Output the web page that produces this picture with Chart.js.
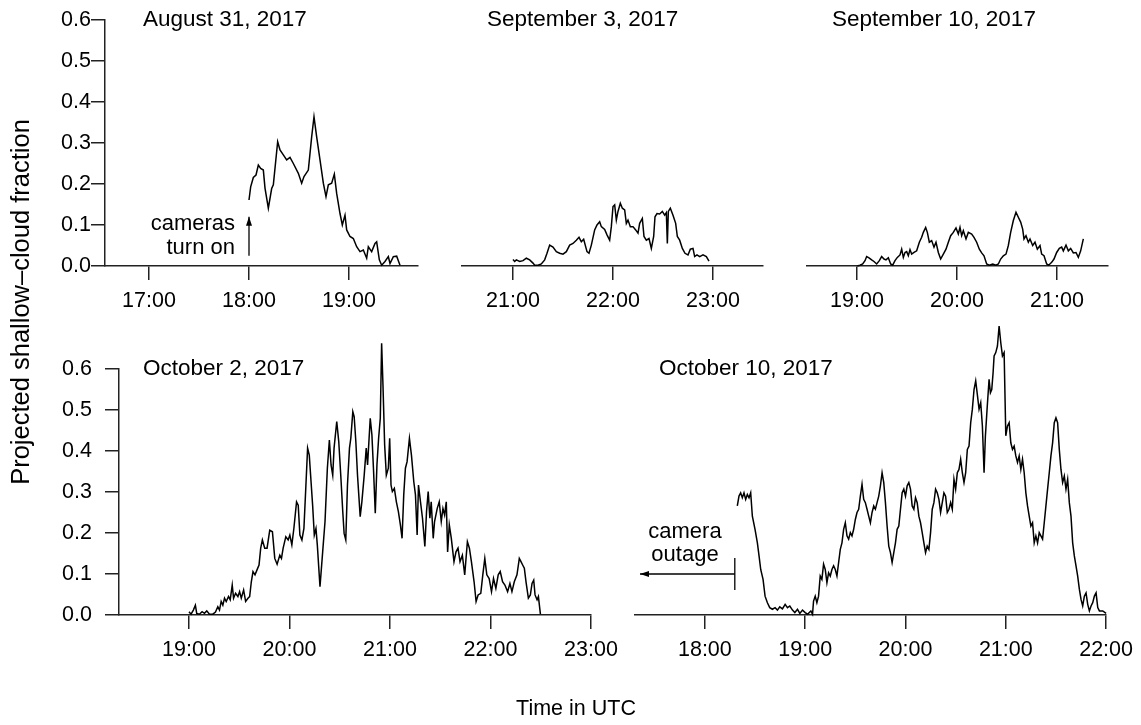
<!DOCTYPE html>
<html>
<head>
<meta charset="utf-8">
<script src="https://cdn.jsdelivr.net/npm/chart.js@4.4.1/dist/chart.umd.min.js"></script>
<style>
  html, body { margin: 0; padding: 0; background: #fff; }
  #wrap { position: relative; width: 1141px; height: 725px; }
  #wrap canvas { position: absolute; left: 0; top: 0; }
</style>
</head>
<body>
<div id="wrap">
  <canvas id="p1" width="1141" height="725"></canvas>
  <canvas id="p2" width="1141" height="725"></canvas>
  <canvas id="p3" width="1141" height="725"></canvas>
  <canvas id="p4" width="1141" height="725"></canvas>
  <canvas id="p5" width="1141" height="725"></canvas>
</div>
<script>
const FONT = '"Liberation Sans", Arial, Helvetica, sans-serif';
const yTickLabels = ['0.0', '0.1', '0.2', '0.3', '0.4', '0.5', '0.6'];

// August 31, 2017 (minutes after 18:00)
const aug31Start = '18:00';
const aug31Ticks = ['17:00', '18:00', '19:00'];
const aug31Min = [0,1,2.6,4.2,5.6,7,8.6,9.6,11.6,13.6,14.6,17.2,18.6,20.6,22.6,24.6,26.6,29.6,31.6,33,35.6,37.6,39,40.6,42.6,44.6,46.2,47.6,49.6,51.2,52.6,54.6,56,57.6,58.6,60.6,62.6,64.6,66.6,68.6,70.6,71.6,73.6,75.6,76.6,78.2,79.6,81.6,83.6,84.6,86.6,88.6,90.6];
const aug31Frac = [0.161,0.193,0.216,0.222,0.246,0.238,0.234,0.19,0.141,0.189,0.198,0.303,0.283,0.271,0.259,0.265,0.25,0.226,0.202,0.218,0.234,0.315,0.364,0.315,0.259,0.202,0.169,0.198,0.202,0.224,0.177,0.128,0.1,0.124,0.088,0.072,0.067,0.047,0.035,0.039,0.019,0.047,0.035,0.055,0.059,0.015,0.002,0.011,0.023,0.006,0.023,0.024,0.002];

// September 3, 2017 (minutes after 21:00)
const sep3Start = '21:00';
const sep3Ticks = ['21:00', '22:00', '23:00'];
const sep3Min = [0,1,2,4,6,8,10,12,13,15,17,19,20.4,22,24,26,28,30,32,34,36,38,39.6,41,42.4,44.4,45.6,47,49,50.4,52,53,55,56.4,58,59,60,61,62,63,64.4,65.6,67,68,69,70.4,72,73.6,75,76,77.6,78.6,80,81.6,83,84.4,85.2,86.4,88,89.6,91,92,92.6,93.2,94.4,96,97.6,98.6,100,101.6,103.2,105,106.4,108,109,110.4,112,114,116,117.6];
const sep3Frac = [0.016,0.011,0.015,0.011,0.013,0.019,0.015,0.007,0.002,0.002,0.005,0.015,0.031,0.051,0.046,0.035,0.031,0.029,0.035,0.051,0.055,0.063,0.07,0.059,0.065,0.035,0.031,0.051,0.088,0.1,0.108,0.096,0.089,0.076,0.063,0.096,0.145,0.149,0.112,0.133,0.153,0.141,0.137,0.104,0.112,0.096,0.096,0.088,0.08,0.104,0.116,0.072,0.063,0.067,0.043,0.072,0.12,0.128,0.127,0.133,0.124,0.13,0.055,0.133,0.141,0.124,0.104,0.072,0.063,0.043,0.031,0.027,0.041,0.043,0.023,0.027,0.023,0.027,0.023,0.012];

// September 10, 2017 (minutes after 19:00)
const sep10Start = '19:00';
const sep10Ticks = ['19:00', '20:00', '21:00'];
const sep10Min = [0.2,1.8,3.4,4.8,5.8,7.2,8.8,10.2,11.8,13.4,14.8,16.2,17.4,18.8,20.2,21.4,22.8,24.2,25.8,26.8,27.8,28.8,29.8,30.8,31.8,32.8,34.2,35.8,37.4,38.8,39.8,41.2,42.2,43.4,44.8,46.2,47.4,48.8,50.2,51.8,53.4,54.8,56.2,57.8,59.4,60.8,61.8,62.8,63.8,65.4,66.8,68.8,70.2,71.8,73.4,74.8,76.2,77.8,79.4,81.4,83.4,84.8,86.2,87.8,89.4,90.8,92.2,93.8,95.4,96.8,98.2,99.4,100.2,101.4,102.8,103.8,105.4,106.8,108.2,109.8,110.8,112.2,113.8,115,116.8,118.2,119.8,121.4,122.8,123.8,125.4,126.8,128.2,129.8,131.4,132.8,134.2,135.8];
const sep10Frac = [0.0,0.002,0.005,0.013,0.023,0.02,0.015,0.011,0.005,0.013,0.023,0.017,0.015,0.02,0.005,0.002,0.013,0.021,0.027,0.041,0.021,0.033,0.035,0.025,0.04,0.029,0.033,0.037,0.058,0.07,0.082,0.094,0.082,0.058,0.062,0.046,0.058,0.033,0.017,0.029,0.041,0.058,0.074,0.082,0.093,0.078,0.094,0.074,0.086,0.066,0.082,0.078,0.07,0.058,0.041,0.032,0.025,0.005,0.002,0.005,0.002,0.005,0.017,0.025,0.029,0.05,0.082,0.111,0.131,0.119,0.107,0.09,0.066,0.074,0.058,0.066,0.05,0.058,0.041,0.05,0.029,0.025,0.005,0.002,0.009,0.017,0.033,0.043,0.046,0.037,0.051,0.037,0.043,0.032,0.033,0.021,0.037,0.066];

// October 2, 2017 (minutes after 19:00)
const oct2Start = '19:00';
const oct2Ticks = ['19:00', '20:00', '21:00', '22:00', '23:00'];
const oct2Min = [0,1.2,2.6,3.8,4.6,6.2,7.8,9.2,10.6,12.2,14.2,15.8,17.2,18.2,19.2,20.2,21.2,22.2,23.6,24.6,25.8,26.6,27.8,29.2,30.2,31.2,32.6,33.8,35.2,36.2,37.2,38.2,39.4,40.6,41.8,42.8,43.8,45.2,46.6,48.2,49.8,51.2,52.6,54.2,55.2,56.2,57.8,59.2,60.2,61.4,62.6,64.2,65.2,66.2,67.4,68.6,69.8,70.8,71.8,72.6,73.8,74.8,75.8,76.6,78.2,79.8,81.2,82.6,83.8,84.8,85.8,86.6,88.2,89.4,90.6,91.8,92.6,93.6,94.6,95.8,96.6,97.8,98.6,99.6,100.6,102.2,103.2,104.6,105.8,106.6,108.2,109.2,110.2,111.2,112.2,113.2,114.2,115,115.8,116.8,117.8,119,119.8,120.6,121.4,122.6,123.8,125,126.2,127.2,128.2,129.2,130.2,131.6,132.8,134.2,135.2,136.2,137,138.2,139.4,140.8,141.8,142.8,143.8,144.6,145.8,146.6,148.2,149.4,150.6,151.6,152.6,153.6,154.4,155.4,156.6,158.2,159.4,160.6,161.8,163.2,164.6,166.2,167.4,168.6,170.2,171.4,172.6,174.2,175.4,176.6,177.8,179.2,180.6,181.8,183.2,184.6,185.8,187.2,188.6,190.2,191.6,192.8,194.2,195.8,197.2,198.2,199.2,200.2,201.2,202.6,203.8,204.8,205.8,206.6,207.8,208.6,209.8];
const oct2Frac = [0.008,0.002,0.012,0.024,0.004,0.002,0.008,0.004,0.01,0.002,0.002,0.007,0.02,0.012,0.033,0.024,0.041,0.033,0.045,0.037,0.073,0.041,0.053,0.045,0.057,0.041,0.061,0.033,0.041,0.045,0.081,0.106,0.098,0.11,0.122,0.163,0.183,0.163,0.163,0.207,0.203,0.138,0.124,0.146,0.138,0.163,0.191,0.183,0.195,0.171,0.211,0.276,0.268,0.195,0.183,0.211,0.317,0.407,0.39,0.341,0.268,0.195,0.211,0.171,0.069,0.154,0.228,0.358,0.427,0.366,0.341,0.407,0.472,0.423,0.341,0.252,0.199,0.183,0.317,0.407,0.431,0.496,0.484,0.423,0.341,0.24,0.276,0.341,0.407,0.366,0.48,0.439,0.35,0.248,0.366,0.431,0.48,0.663,0.561,0.415,0.341,0.358,0.431,0.317,0.301,0.309,0.276,0.252,0.22,0.187,0.293,0.358,0.374,0.431,0.39,0.325,0.293,0.195,0.317,0.276,0.236,0.167,0.252,0.301,0.236,0.276,0.187,0.228,0.26,0.276,0.228,0.26,0.244,0.276,0.154,0.22,0.187,0.13,0.154,0.163,0.13,0.146,0.098,0.179,0.163,0.13,0.081,0.033,0.049,0.053,0.098,0.138,0.098,0.089,0.057,0.089,0.065,0.098,0.106,0.081,0.073,0.057,0.077,0.057,0.081,0.098,0.138,0.13,0.122,0.114,0.081,0.041,0.049,0.077,0.085,0.049,0.037,0.045,0.002];

// October 10, 2017 (minutes after 18:00)
const oct10Start = '18:00';
const oct10Ticks = ['18:00', '19:00', '20:00', '21:00', '22:00'];
const oct10Min = [19.4,20.4,21.4,22.4,23.4,24.4,25.4,26.4,27.4,28.4,30,31.4,32.4,33.4,34.8,36,37.4,38.8,40.4,42,43.4,44.8,46.4,48,49.4,50.8,52.4,53.8,55.4,56.8,58.4,60,61.4,63.4,64.4,
  65,66,67,68,69,70,71,72,73,74,75,76,77,78,79,80,81,82,83,84,85,86,87,88,89,90,91,92,93,94,95,96,97,98,99,100,101,102,103,104,105,106,107,108,109,110,111,112,113,114,115,116,117,118,119,120,121,122,123,124,125,126,127,128,129,130,131,132,133,134,135,136,137,138,139,140,141,142,143,144,145,146,147,148,149,150,151,152,153,154,155,156,157,158,159,160,161,162,163,164,165,166,
  167,167.8,168.8,170,170.8,171.6,172.4,
  173,174,175,176,177,178,179,180,181,182,183,184,185,186,187,188,189,190,191,192,193,194,195,196,197,198,199,200,201,202,203,204,205,206,207,208,209,210,211,212,213,214,215,216,217,218,219,220,221,222,223,224,225,226,227,228,229,230,231,232,233,234,235,236,
  238,240];
const oct10Frac = [0.266,0.29,0.298,0.286,0.298,0.282,0.294,0.286,0.298,0.241,0.209,0.176,0.144,0.111,0.087,0.046,0.03,0.018,0.014,0.018,0.012,0.02,0.015,0.026,0.018,0.022,0.012,0.006,0.014,0.004,0.012,0.006,0.002,0.01,0.002,
  0.034,0.046,0.03,0.046,0.095,0.087,0.124,0.111,0.079,0.103,0.095,0.111,0.12,0.111,0.095,0.128,0.16,0.176,0.209,0.225,0.193,0.185,0.201,0.193,0.209,0.233,0.25,0.258,0.29,0.319,0.282,0.274,0.258,0.241,0.225,0.25,0.266,0.258,0.274,0.29,0.315,0.347,0.323,0.274,0.217,0.168,0.152,0.128,0.152,0.176,0.209,0.217,0.258,0.298,0.307,0.29,0.315,0.323,0.307,0.266,0.258,0.286,0.274,0.241,0.225,0.201,0.176,0.152,0.168,0.16,0.201,0.258,0.274,0.307,0.298,0.282,0.25,0.274,0.298,0.29,0.25,0.258,0.274,0.258,0.331,0.307,0.347,0.355,0.38,0.347,0.323,0.347,0.404,0.412,0.469,0.502,0.55,0.571,0.537,0.502,0.518,0.461,
  0.347,0.437,0.502,0.575,0.542,0.55,0.591,
  0.632,0.64,0.656,0.705,0.664,0.632,0.64,0.437,0.461,0.469,0.42,0.404,0.412,0.388,0.372,0.388,0.355,0.38,0.347,0.298,0.266,0.241,0.217,0.225,0.176,0.193,0.176,0.201,0.193,0.185,0.225,0.266,0.307,0.347,0.388,0.42,0.469,0.481,0.469,0.404,0.355,0.323,0.339,0.307,0.331,0.274,0.241,0.176,0.144,0.12,0.095,0.063,0.038,0.022,0.046,0.054,0.026,0.01,0.022,0.03,0.046,0.054,0.018,0.01,
  0.01,0.004];

const XH = 50;      // height reserved for x axis (ticks + labels)
const AXIS = '#222';

function toMin(s) {
  const [h, m] = s.split(':').map(Number);
  return h * 60 + m;
}
function hhmm(v) {
  const h = Math.floor(v / 60), m = Math.round(v % 60);
  return h + ':' + String(m).padStart(2, '0');
}

// text, arrows and axis titles, positioned in data units of each panel
const notesPlugin = {
  id: 'notes',
  afterDraw(chart, args, opts) {
    const { ctx } = chart;
    const x = chart.scales.x, y = chart.scales.y;
    ctx.save();
    ctx.fillStyle = '#000';
    ctx.strokeStyle = '#000';
    (opts.texts || []).forEach(t => {
      ctx.font = (t.size || 22.5) + 'px ' + FONT;
      ctx.textAlign = t.align || 'left';
      ctx.textBaseline = 'alphabetic';
      ctx.fillText(t.text, x.getPixelForValue(t.x), y.getPixelForValue(t.y));
    });
    (opts.arrows || []).forEach(a => {
      const x1 = x.getPixelForValue(a.x1), y1 = y.getPixelForValue(a.y1);
      const x2 = x.getPixelForValue(a.x2), y2 = y.getPixelForValue(a.y2);
      const ang = Math.atan2(y2 - y1, x2 - x1);
      ctx.lineWidth = 1.3;
      ctx.beginPath(); ctx.moveTo(x1, y1); ctx.lineTo(x2, y2); ctx.stroke();
      ctx.beginPath();
      ctx.moveTo(x2, y2);
      ctx.lineTo(x2 - 9 * Math.cos(ang) + 3 * Math.sin(ang), y2 - 9 * Math.sin(ang) - 3 * Math.cos(ang));
      ctx.lineTo(x2 - 9 * Math.cos(ang) - 3 * Math.sin(ang), y2 - 9 * Math.sin(ang) + 3 * Math.cos(ang));
      ctx.closePath(); ctx.fill();
    });
    (opts.bars || []).forEach(b => {
      const bx = x.getPixelForValue(b.x);
      ctx.lineWidth = 1.3;
      ctx.beginPath();
      ctx.moveTo(bx, y.getPixelForValue(b.y1));
      ctx.lineTo(bx, y.getPixelForValue(b.y2));
      ctx.stroke();
    });
    (opts.page || []).forEach(t => {
      ctx.save();
      ctx.font = t.size + 'px ' + FONT;
      ctx.textAlign = 'center';
      ctx.textBaseline = 'middle';
      ctx.translate(t.px, t.py);
      ctx.rotate(t.rot || 0);
      ctx.fillText(t.text, 0, 0);
      ctx.restore();
    });
    ctx.restore();
  }
};

function makePanel(p) {
  const s = toMin(p.start);
  const pts = p.t.map((m, i) => ({ x: s + m, y: p.v[i] }));
  const yW = p.yPad === undefined ? 0 : 60;
  const tickFont = { family: FONT, size: 21.5 };
  return new Chart(document.getElementById(p.id), {
    type: 'line',
    data: {
      datasets: [{
        data: pts, borderColor: '#000', borderWidth: 1.5,
        pointRadius: 0, tension: 0, fill: false, clip: false
      }]
    },
    options: {
      responsive: false,
      animation: false,
      events: [],
      layout: {
        padding: {
          left: p.area.left - yW, right: 1141 - p.area.right,
          top: p.area.top, bottom: 725 - p.area.bottom - XH
        }
      },
      scales: {
        x: {
          type: 'linear', min: p.xMin, max: p.xMax,
          afterBuildTicks: sc => { sc.ticks = p.ticks.map(l => ({ value: toMin(l) })); },
          afterFit: sc => { sc.height = XH; },
          ticks: { callback: v => hhmm(v), font: tickFont, color: '#000', padding: 8, maxRotation: 0, autoSkip: false },
          grid: { drawOnChartArea: false, drawTicks: true, tickLength: 14, color: AXIS, lineWidth: 1.5 },
          border: { display: true, color: AXIS, width: 1.5 }
        },
        y: {
          display: p.yPad !== undefined,
          min: 0, max: 0.6,
          afterBuildTicks: sc => { sc.ticks = yTickLabels.map(l => ({ value: Number(l) })); },
          afterFit: sc => { sc.width = yW; },
          ticks: { callback: v => v.toFixed(1), font: tickFont, color: '#000', padding: p.yPad || 0 },
          grid: { drawOnChartArea: false, drawTicks: true, tickLength: 14, color: AXIS, lineWidth: 1.5 },
          border: { display: true, color: AXIS, width: 1.5 }
        }
      },
      plugins: { legend: { display: false }, tooltip: { enabled: false }, notes: p.notes }
    },
    plugins: [notesPlugin]
  });
}

makePanel({
  id: 'p1', start: aug31Start, t: aug31Min, v: aug31Frac, ticks: aug31Ticks,
  xMin: 993.6, xMax: 1181.4, area: { left: 105, right: 418, top: 20, bottom: 266 }, yPad: 0,
  notes: {
    texts: [
      { text: 'August 31, 2017', x: 1016.4, y: 0.585 },
      { text: 'cameras', x: 1071.6, y: 0.088, align: 'right', size: 22 },
      { text: 'turn on', x: 1071.6, y: 0.029, align: 'right', size: 22 }
    ],
    arrows: [{ x1: 1080, y1: 0.025, x2: 1080, y2: 0.12 }],
    page: [
      { text: 'Projected shallow\u2013cloud fraction', px: 22, py: 302, rot: -Math.PI / 2, size: 25.5 },
      { text: 'Time in UTC', px: 576, py: 709, size: 21.5 }
    ]
  }
});
makePanel({
  id: 'p2', start: sep3Start, t: sep3Min, v: sep3Frac, ticks: sep3Ticks,
  xMin: 1229.4, xMax: 1410, area: { left: 462, right: 763, top: 20, bottom: 266 },
  notes: { texts: [{ text: 'September 3, 2017', x: 1244.4, y: 0.585 }] }
});
makePanel({
  id: 'p3', start: sep10Start, t: sep10Min, v: sep10Frac, ticks: sep10Ticks,
  xMin: 1110, xMax: 1290.6, area: { left: 807, right: 1108, top: 20, bottom: 266 },
  notes: { texts: [{ text: 'September 10, 2017', x: 1125, y: 0.585 }] }
});
makePanel({
  id: 'p4', start: oct2Start, t: oct2Min, v: oct2Frac, ticks: oct2Ticks,
  xMin: 1098.2, xMax: 1380, area: { left: 119, right: 591, top: 369, bottom: 615 }, yPad: 13,
  notes: { texts: [{ text: 'October 2, 2017', x: 1112.5, y: 0.585 }] }
});
makePanel({
  id: 'p5', start: oct10Start, t: oct10Min, v: oct10Frac, ticks: oct10Ticks,
  xMin: 1038.2, xMax: 1320, area: { left: 635, right: 1107, top: 369, bottom: 615 },
  notes: {
    texts: [
      { text: 'October 10, 2017', x: 1052.5, y: 0.585 },
      { text: 'camera', x: 1068.1, y: 0.188, align: 'center', size: 22 },
      { text: 'outage', x: 1068.1, y: 0.132, align: 'center', size: 22 }
    ],
    arrows: [{ x1: 1097.9, y1: 0.1, x2: 1041.2, y2: 0.1 }],
    bars: [{ x: 1097.9, y1: 0.061, y2: 0.139 }]
  }
});
</script>
</body>
</html>
